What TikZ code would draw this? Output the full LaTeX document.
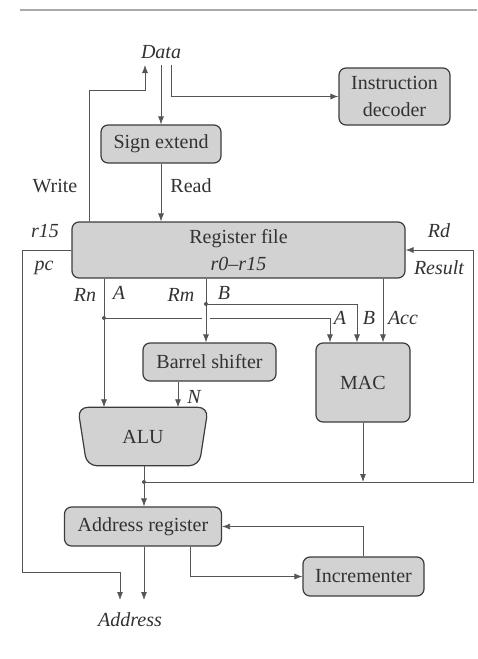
\documentclass[tikz,border=0pt]{standalone}
\usepackage{fontspec}
\setmainfont{Liberation Serif}
\usetikzlibrary{arrows.meta,backgrounds}

\definecolor{boxfill}{RGB}{210,210,210}
\definecolor{boxline}{RGB}{60,60,60}
\definecolor{wirecol}{RGB}{85,85,85}
\definecolor{textcol}{RGB}{50,50,50}
\definecolor{rulecol}{RGB}{170,170,170}
\newcommand\figfont{\fontsize{20}{22}\selectfont}

\begin{document}
\begin{tikzpicture}[x=1pt,y=-1pt,
  blk/.style={draw=boxline, fill=boxfill, line width=1.2pt, rounded corners=7pt,
              inner sep=0pt, font=\figfont, text=textcol, align=center},
  wire/.style={draw=wirecol, line width=0.8pt},
  arr/.style={wire, -{Latex[length=8pt,width=6pt]}},
  lbl/.style={font=\figfont\itshape, inner sep=0pt, text=textcol},
  rlbl/.style={font=\figfont, inner sep=0pt, text=textcol},
  jdot/.style={circle, fill=wirecol, inner sep=0pt, minimum size=4pt}
]
\useasboundingbox (0,0) rectangle (477,659);

% header rule
\draw[rulecol, line width=1.5pt] (20,10) -- (477,10);

% blocks
\node[blk, minimum width=111, minimum height=57] (dec) at (394.5,96.5) {Instruction\\[5pt]decoder};
\node[blk, minimum width=120, minimum height=38] (sign) at (161,144) {Sign extend};
\node[blk, minimum width=333, minimum height=56] (rf) at (238.5,250) {Register file\\[5pt]\textit{r0--r15}};
\node[blk, minimum width=133, minimum height=38] (bs) at (209.5,362) {Barrel shifter};
\node[blk, minimum width=94, minimum height=79] (mac) at (363,382.5) {MAC};
\node[font=\figfont, text=textcol, inner sep=0pt, minimum width=130, minimum height=58] (alu) at (143,436.5) {ALU};
\begin{scope}[on background layer]
  \draw[draw=boxline, fill=boxfill, line width=1.2pt, rounded corners=10pt]
    (alu.north west) -- (alu.north east) -- ([xshift=-9pt]alu.south east)
    -- ([xshift=9pt]alu.south west) -- cycle;
\end{scope}
\node[blk, minimum width=157, minimum height=39] (ar) at (143,526.5) {Address register};
\node[blk, minimum width=121, minimum height=39] (inc) at (363.5,576.5) {Incrementer};

% labels
\node[lbl] (data) at (161,52) {Data};
\node[lbl] (addr) at (130,620) {Address};
\node[rlbl] at (55,186) {Write};
\node[rlbl] at (191,186) {Read};
\node[lbl] at (45,231) {r15};
\node[lbl] at (44,268) {pc};
\node[lbl] at (439,231) {Rd};
\node[lbl] at (439,268) {Result};
\node[lbl] at (85,295) {Rn};
\node[lbl] at (119,293) {A};
\node[lbl] at (181,295) {Rm};
\node[lbl] at (224,293) {B};
\node[lbl] at (340,318) {A};
\node[lbl] at (369,318) {B};
\node[lbl] at (403,318) {Acc};
\node[lbl] at (194,397) {N};

% junction points
\coordinate (dIn) at (145,65);
\coordinate (dOut) at (161,65);
\coordinate (dDec) at (171,65);
\node[jdot] (jA) at (104,318) {};
\node[jdot] (jB) at (206,304) {};
\node[jdot] (jR) at (144,482) {};

% data bus
\draw[arr] (dOut) -- (sign.north);
\draw[arr] (dDec) |- (dec.west);
\draw[arr] (89,0 |- rf.north) -- (89,90) -| (dIn);
\draw[arr] (sign.south) -- (sign.south |- rf.north);

% register file outputs
\draw[arr] (104,0 |- rf.south) -- (104,0 |- alu.north);
\draw[arr] (206,0 |- rf.south) -- (206,0 |- bs.north);
\draw[wire] (jA) -- (202,318);
\draw[arr] (210,318) -| (330,0 |- mac.north);
\draw[arr] (jB) -| (357,0 |- mac.north);
\draw[arr] (383,0 |- rf.south) -- (383,0 |- mac.north);
\draw[arr] (178,0 |- bs.south) -- (178,0 |- alu.north);

% results back to register file
\draw[wire] (144,0 |- alu.south) -- (jR);
\draw[arr] (mac.south) -- (mac.south |- jR);
\draw[arr] (jR) -- (473,482) -- (473,0 |- rf.east) -- (rf.east);
\draw[arr] (jR) -- (jR |- ar.north);

% pc to address bus
\draw[arr] (rf.west) -- (22,0 |- rf.west) -- (22,572) -- (120,572) -- (120,600);

% address register and incrementer
\draw[arr] (144,0 |- ar.south) -- (144,600);
\draw[arr] (190,0 |- ar.south) |- (inc.west);
\draw[arr] (inc.north) |- (ar.east);
\end{tikzpicture}
\end{document}
